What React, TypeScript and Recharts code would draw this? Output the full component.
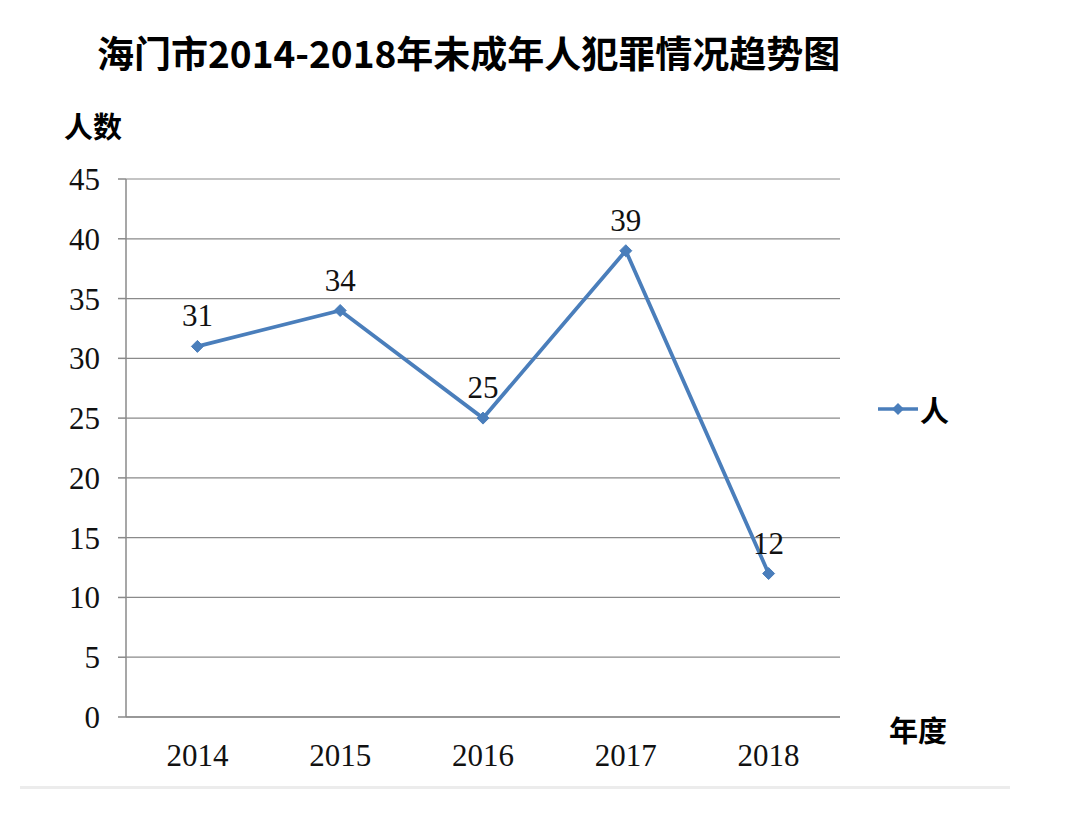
import React from "react";
import { LineChart, Line, XAxis, YAxis, CartesianGrid, LabelList } from "recharts";

const years = ["2014", "2015", "2016", "2017", "2018"];
const counts = [31, 34, 25, 39, 12];
const yTicks = [0, 5, 10, 15, 20, 25, 30, 35, 40, 45];
const boundaryTicks = [0, 1, 2, 3, 4, 5];
const seriesName = "人";

const data = years.map((y, i) => ({ x: i + 0.5, year: y, value: counts[i] }));
const centerTicks = data.map((d) => d.x);

const LINE = "#4a7ebb";
const AXIS = "#8a8a8a";
const SERIF = "'Liberation Serif', 'Times New Roman', serif";
const CJK = "'Noto Sans CJK SC', sans-serif";

const Diamond = (props: any) => {
  const { cx, cy } = props;
  if (cx == null || cy == null) return null;
  const r = 6;
  return (
    <polygon
      points={`${cx},${cy - r} ${cx + r},${cy} ${cx},${cy + r} ${cx - r},${cy}`}
      fill={LINE}
      stroke={LINE}
    />
  );
};

export default function App() {
  return (
    <div style={{ position: "absolute", left: 0, top: 0, width: 1078, height: 839, background: "#fff" }}>
      <div
        style={{
          position: "absolute",
          left: 97,
          top: 25,
          fontFamily: CJK,
          fontWeight: 700,
          fontSize: 37,
          color: "#000",
          whiteSpace: "nowrap",
        }}
      >
        海门市2014-2018年未成年人犯罪情况趋势图
      </div>
      <div style={{ position: "absolute", left: 64, top: 104, fontFamily: CJK, fontWeight: 700, fontSize: 29, color: "#000" }}>
        人数
      </div>
      <div style={{ position: "absolute", left: 889, top: 708, fontFamily: CJK, fontWeight: 700, fontSize: 29, color: "#000" }}>
        年度
      </div>
      <div style={{ position: "absolute", left: 876, top: 391, display: "flex", alignItems: "center" }}>
        <svg width={44} height={20}>
          <line x1={2} y1={10} x2={42} y2={10} stroke={LINE} strokeWidth={3.5} />
          <polygon points="22,4 28,10 22,16 16,10" fill={LINE} />
        </svg>
        <span style={{ fontFamily: CJK, fontWeight: 700, fontSize: 29, color: "#000", lineHeight: "36px" }}>{seriesName}</span>
      </div>
      <div style={{ position: "absolute", left: 20, top: 786, width: 990, height: 3, background: "#ececec" }} />
      <div style={{ position: "absolute", left: 0, top: 0 }}>
        <LineChart width={1078} height={839} data={data} margin={{ top: 179, right: 238, bottom: 52, left: 0 }}>
          <CartesianGrid xAxisId={0} vertical={false} stroke={AXIS} strokeWidth={1.2} />
          <XAxis
            xAxisId={0}
            type="number"
            dataKey="x"
            domain={[0, 5]}
            ticks={boundaryTicks}
            tick={false}
            height={12}
            tickSize={10}
            stroke={AXIS}
            strokeWidth={1.5}
          />
          <XAxis
            xAxisId={1}
            type="number"
            dataKey="x"
            domain={[0, 5]}
            ticks={centerTicks}
            tickFormatter={(v: number) => years[Math.floor(v)]}
            axisLine={false}
            tickLine={false}
            tickSize={0}
            tickMargin={15}
            height={58}
            tick={{ fontFamily: SERIF, fontSize: 31, fill: "#111" }}
          />
          <YAxis
            type="number"
            domain={[0, 45]}
            ticks={yTicks}
            width={126}
            tickSize={8}
            tickMargin={18}
            stroke={AXIS}
            strokeWidth={1.5}
            tick={{ fontFamily: SERIF, fontSize: 31, fill: "#111" }}
            interval={0}
          />
          <Line
            xAxisId={0}
            dataKey="value"
            name={seriesName}
            stroke={LINE}
            strokeWidth={3.8}
            dot={<Diamond />}
            activeDot={false}
            isAnimationActive={false}
          >
            <LabelList
              dataKey="value"
              position="top"
              offset={20}
              style={{ fontFamily: SERIF, fontSize: 31, fill: "#111" }}
            />
          </Line>
        </LineChart>
      </div>
    </div>
  );
}
